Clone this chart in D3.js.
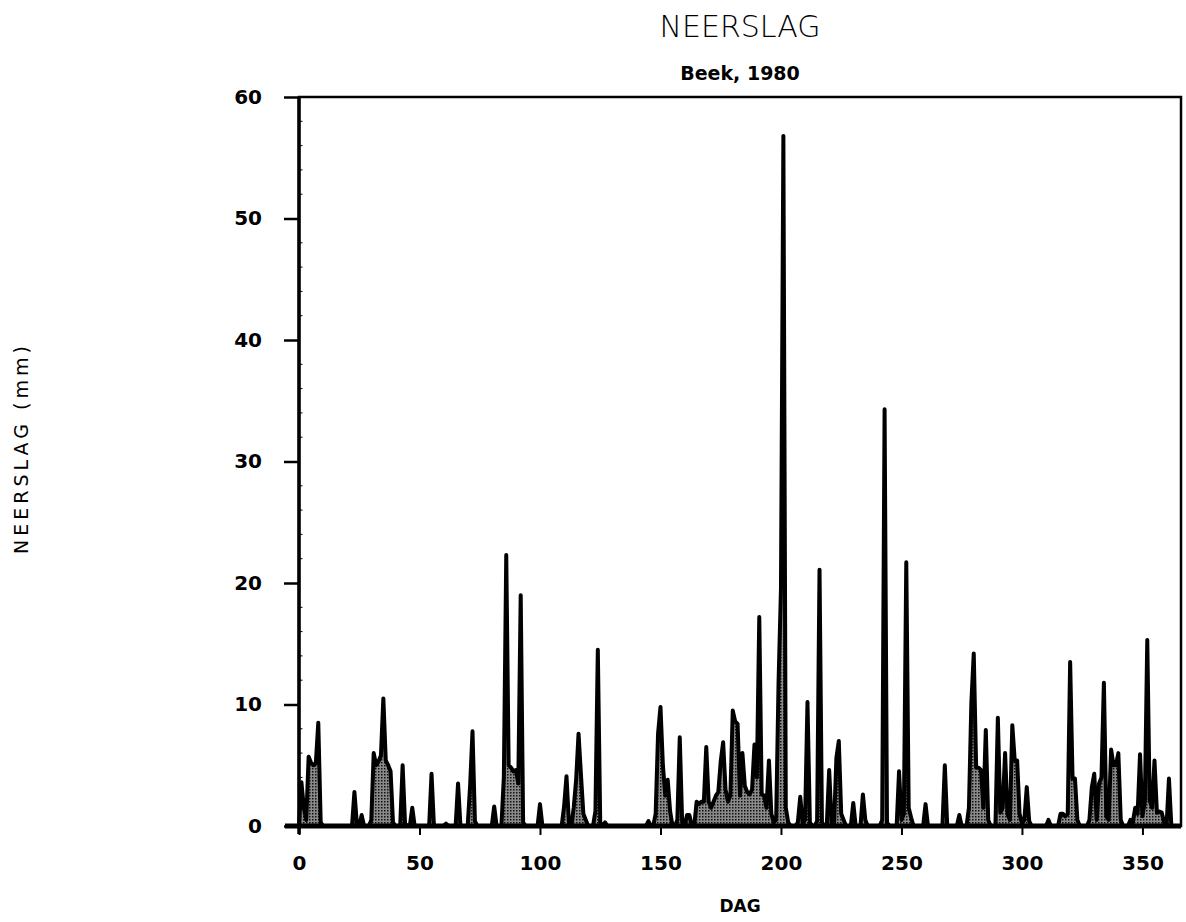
<!DOCTYPE html>
<html>
<head>
<meta charset="utf-8">
<script src="https://cdn.jsdelivr.net/npm/d3@7"></script>
<style>
  body { margin: 0; background: #fff; }
  text { font-family: "DejaVu Sans", sans-serif; fill: #000; }
</style>
</head>
<body>
<svg id="chart"></svg>
<script>
// days with measured rain (day of year) and amount in mm; all other days are dry
const rainDays = [
  1, 2, 3, 4, 5, 6, 7, 8, 9, 23, 24, 26, 30, 31, 32, 33, 34, 35, 36, 37, 38, 39,
  43, 44, 47, 55, 61, 66, 71, 72, 73, 81, 85, 86, 87, 88, 89, 90, 91, 92, 93,
  100, 110, 111, 112, 114, 115, 116, 117, 118, 119, 123, 124, 125, 127, 145,
  148, 149, 150, 151, 152, 153, 154, 157, 158, 159, 161, 162, 165, 166, 167, 168,
  169, 170, 171, 172, 173, 174, 175, 176, 177, 178, 179, 180, 181, 182, 183, 184,
  185, 186, 187, 188, 189, 190, 191, 192, 193, 194, 195, 196, 197, 198, 199, 200,
  201, 202, 203, 207, 208, 209, 210, 211, 212, 215, 216, 217, 220, 221, 223, 224,
  225, 226, 230, 234, 235, 242, 243, 244, 249, 250, 251, 252, 253, 254, 260, 268,
  274, 278, 279, 280, 281, 282, 283, 284, 285, 286, 290, 291, 292, 293, 294, 295,
  296, 297, 298, 299, 300, 301, 302, 303, 311, 316, 317, 318, 319, 320, 321, 322,
  323, 328, 329, 330, 331, 332, 333, 334, 335, 336, 337, 338, 339, 340, 341, 345,
  346, 347, 348, 349, 350, 351, 352, 353, 354, 355, 356, 357, 358, 359, 361
]
const rainMm = [
  3.6, 1.5, 0.5, 5.7, 5.2, 5.0, 5.2, 8.5, 0.3, 2.8, 0.2, 0.9, 0.5, 6.0, 5.0, 5.3, 5.8, 10.5, 5.4, 5.0, 4.5, 0.3,
  5.0, 0.2, 1.5, 4.3, 0.2, 3.5, 3.3, 7.8, 0.4, 1.6, 4.0, 22.3, 5.0, 4.8, 4.5, 4.6, 3.5, 19.0, 0.3,
  1.8, 1.6, 4.1, 0.3, 1.5, 3.8, 7.6, 4.2, 1.0, 0.5, 1.2, 14.5, 0.3, 0.3, 0.4,
  1.0, 7.6, 9.8, 5.0, 2.5, 3.8, 1.2, 0.5, 7.3, 0.3, 0.9, 0.9, 2.0, 1.8, 2.0, 2.0,
  6.5, 2.0, 1.5, 2.0, 2.5, 2.8, 5.3, 6.9, 3.0, 2.0, 2.5, 9.5, 8.6, 8.4, 2.5, 6.0,
  3.3, 2.8, 2.6, 3.0, 6.7, 4.0, 17.2, 2.6, 2.5, 1.5, 5.4, 1.0, 0.3, 0.5, 11.8, 19.5,
  56.8, 1.5, 0.3, 0.3, 2.4, 0.2, 0.5, 10.2, 0.3, 0.4, 21.1, 0.3, 4.6, 0.3, 5.6, 7.0,
  1.0, 0.5, 1.9, 2.6, 0.5, 0.5, 34.3, 0.3, 4.5, 0.5, 1.0, 21.7, 1.5, 0.7, 1.8, 5.0,
  0.9, 1.5, 10.1, 14.2, 4.8, 4.8, 4.6, 1.5, 7.9, 0.5, 8.9, 1.1, 1.5, 6.0, 1.0, 0.5,
  8.3, 5.4, 5.4, 1.0, 0.2, 0.5, 3.2, 0.4, 0.5, 1.0, 1.0, 0.8, 1.0, 13.5, 3.9, 3.9,
  0.5, 0.5, 3.2, 4.3, 0.5, 3.5, 4.0, 11.8, 0.8, 0.5, 6.3, 5.0, 5.0, 6.0, 0.5, 0.5,
  0.3, 1.5, 1.0, 5.9, 0.8, 2.0, 15.3, 2.1, 1.5, 5.4, 1.1, 1.2, 1.1, 0.3, 3.9
]
const yTicks = [0, 10, 20, 30, 40, 50, 60]
const xTicks = [0, 50, 100, 150, 200, 250, 300, 350]

const width = 1186
const height = 922
const svg = d3.select("#chart").attr("width", width).attr("height", height)

const x = d3.scaleLinear().domain([0, 366]).range([299, 1181])
const y = d3.scaleLinear().domain([0, 60]).range([826, 97])
const midX = (x(0) + x(366)) / 2

// full year series, dry days = 0
const rainByDay = new Map(rainDays.map((d, i) => [d, rainMm[i]]))
const series = d3.range(0, 367).map((d) => ({ day: d, mm: rainByDay.get(d) || 0 }))

// stippled grey fill like the old plotter output
const defs = svg.append("defs")
const pat = defs.append("pattern")
  .attr("id", "stipple")
  .attr("width", 3).attr("height", 3)
  .attr("patternUnits", "userSpaceOnUse")
pat.append("rect").attr("width", 3).attr("height", 3).attr("fill", "#8a8a8a")
pat.append("rect").attr("width", 1.5).attr("height", 1.5).attr("fill", "#111")

const area = d3.area()
  .x((d) => x(d.day))
  .y0(y(0))
  .y1((d) => y(d.mm))

const line = d3.line()
  .x((d) => x(d.day))
  .y((d) => y(d.mm))

svg.append("path")
  .datum(series)
  .attr("d", area)
  .attr("fill", "url(#stipple)")

svg.append("path")
  .datum(series)
  .attr("d", line)
  .attr("fill", "none")
  .attr("stroke", "#000")
  .attr("stroke-width", 4)
  .attr("stroke-linejoin", "round")

// frame
svg.append("rect")
  .attr("x", x(0)).attr("y", y(60))
  .attr("width", x(366) - x(0)).attr("height", y(0) - y(60))
  .attr("fill", "none").attr("stroke", "#000").attr("stroke-width", 2.5)
svg.append("line")
  .attr("x1", x(0)).attr("x2", x(0))
  .attr("y1", y(60)).attr("y2", y(0) + 8)
  .attr("stroke", "#000").attr("stroke-width", 3.5)

// heavy baseline
svg.append("line")
  .attr("x1", x(0) - 14).attr("x2", x(366))
  .attr("y1", y(0)).attr("y2", y(0))
  .attr("stroke", "#000").attr("stroke-width", 5)

// y axis
const yAxis = svg.append("g")
  .attr("transform", `translate(${x(0)},0)`)
  .call(d3.axisLeft(y).tickValues(yTicks).tickSize(15).tickPadding(10).tickFormat(d3.format("d")))
yAxis.select(".domain").remove()
yAxis.selectAll(".tick line").attr("stroke-width", 2.5)
yAxis.selectAll(".tick text")
  .style("font-size", "20px").style("font-weight", "bold").attr("x", -37)

// minor inner ticks on the y axis
svg.append("g")
  .selectAll("line")
  .data(d3.range(2, 60, 2).filter((d) => d % 10 !== 0))
  .join("line")
  .attr("x1", x(0)).attr("x2", x(0) + 3.5)
  .attr("y1", (d) => y(d)).attr("y2", (d) => y(d))
  .attr("stroke", "#000").attr("stroke-width", 1)

// x axis
const xAxis = svg.append("g")
  .attr("transform", `translate(0,${y(0) + 1})`)
  .call(d3.axisBottom(x).tickValues(xTicks).tickSize(8).tickPadding(21).tickFormat(d3.format("d")))
xAxis.select(".domain").remove()
xAxis.selectAll(".tick line").attr("stroke-width", 2)
xAxis.selectAll(".tick text").style("font-size", "20px").style("font-weight", "bold")

// titles
svg.append("text")
  .attr("x", midX).attr("y", 37)
  .attr("text-anchor", "middle")
  .style("font-size", "30px").style("font-weight", "300")
  .text("NEERSLAG")

svg.append("text")
  .attr("x", midX).attr("y", 80)
  .attr("text-anchor", "middle")
  .style("font-size", "19px").style("font-weight", "bold")
  .text("Beek, 1980")

svg.append("text")
  .attr("x", midX).attr("y", 912)
  .attr("text-anchor", "middle")
  .style("font-size", "17px").style("font-weight", "bold")
  .text("DAG")

svg.append("text")
  .attr("transform", "translate(28,448) rotate(-90)")
  .attr("text-anchor", "middle")
  .style("font-size", "19px").style("letter-spacing", "4px")
  .text("NEERSLAG (mm)")
</script>
</body>
</html>
